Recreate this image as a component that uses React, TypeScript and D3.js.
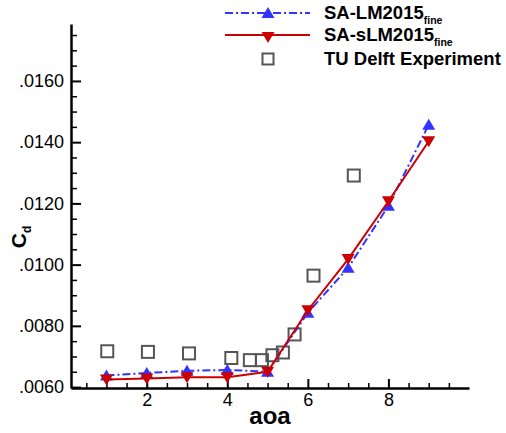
import React, { useEffect, useRef } from "react";
import * as d3 from "d3";

const aoaSim = [1, 2, 3, 4, 5, 6, 7, 8, 9];
const cdSALM = [0.00638, 0.00646, 0.00653, 0.00656, 0.0065, 0.00843, 0.0099, 0.01192, 0.01457];
const cdSsLM = [0.00625, 0.00628, 0.00632, 0.00632, 0.0065, 0.00851, 0.01018, 0.01207, 0.01403];
const aoaExp = [1.02, 2.03, 3.05, 4.1, 4.56, 4.86, 5.12, 5.38, 5.67, 6.14, 7.14];
const cdExp = [0.00717, 0.00715, 0.0071, 0.00695, 0.00688, 0.00688, 0.00704, 0.00713, 0.00772, 0.00964, 0.01291];
const xMajor = [2, 4, 6, 8];
const yMajor = [0.006, 0.008, 0.01, 0.012, 0.014, 0.016];
const legendLabels = ["SA-LM2015", "SA-sLM2015", "TU Delft Experiment"];
const legendSub = ["fine", "fine", ""];

const W = 506;
const H = 433;
const FONT = "'Liberation Sans', Arial, Helvetica, sans-serif";

export default function App() {
  const ref = useRef<SVGSVGElement | null>(null);

  useEffect(() => {
    const svg = d3.select(ref.current);
    svg.selectAll("*").remove();

    const x = d3.scaleLinear().domain([0.12, 10]).range([71, 469]);
    const y = d3.scaleLinear().domain([0.00597, 0.01786]).range([388, 24]);

    const xMinor = d3.range(0.5, 10, 0.5).filter((v) => v % 2 !== 0);
    const yMinor = d3.range(13, 36).map((k) => k * 0.0005).filter((v, i) => (i + 13) % 4 !== 0);

    // minor ticks
    svg.append("g").attr("transform", `translate(0,${388})`)
      .call(d3.axisBottom(x).tickValues(xMinor).tickSizeInner(-5).tickSizeOuter(0).tickFormat(() => ""))
      .call((g) => g.select(".domain").remove())
      .call((g) => g.selectAll("line").attr("stroke", "#000").attr("stroke-width", 1.5));
    svg.append("g").attr("transform", `translate(${71},0)`)
      .call(d3.axisLeft(y).tickValues(yMinor).tickSizeInner(-6).tickSizeOuter(0).tickFormat(() => ""))
      .call((g) => g.select(".domain").remove())
      .call((g) => g.selectAll("line").attr("stroke", "#000").attr("stroke-width", 1.5));

    // major axes
    const gx = svg.append("g").attr("transform", `translate(0,${388})`)
      .call(d3.axisBottom(x).tickValues(xMajor).tickSizeInner(-9).tickSizeOuter(0).tickPadding(5).tickFormat(d3.format("d")));
    gx.select(".domain").attr("stroke", "#000").attr("stroke-width", 2.5);
    gx.selectAll("line").attr("stroke", "#000").attr("stroke-width", 2);
    gx.selectAll("text").attr("font-size", 18).attr("font-family", FONT).attr("fill", "#000");

    const gy = svg.append("g").attr("transform", `translate(${71},0)`)
      .call(d3.axisLeft(y).tickValues(yMajor).tickSizeInner(-10).tickSizeOuter(0).tickPadding(7)
        .tickFormat((d) => d3.format(".4f")(d as number).replace(/^0/, "")));
    gy.select(".domain").attr("stroke", "#000").attr("stroke-width", 2.5);
    gy.selectAll("line").attr("stroke", "#000").attr("stroke-width", 2);
    gy.selectAll("text").attr("font-size", 18).attr("font-family", FONT).attr("fill", "#000");

    const blue = "#3333ff";
    const red = "#cc0000";
    const line = d3.line<number>().x((_, i) => x(aoaSim[i])).y((d) => y(d));
    const triUpPath = "M0,-6L6.5,5L-6.5,5Z";
    const triDownPath = "M0,6L6.5,-5L-6.5,-5Z";

    // experiment squares
    svg.append("g").selectAll("rect").data(aoaExp).join("rect")
      .attr("x", (d) => x(d) - 6).attr("y", (_, i) => y(cdExp[i]) - 6)
      .attr("width", 12).attr("height", 12)
      .attr("fill", "none").attr("stroke", "#555").attr("stroke-width", 2);

    // SA-LM2015 blue
    svg.append("path").datum(cdSALM).attr("d", line).attr("fill", "none")
      .attr("stroke", blue).attr("stroke-width", 2).attr("stroke-dasharray", "8,3,2,3");
    svg.append("g").selectAll("path").data(cdSALM).join("path")
      .attr("d", triUpPath).attr("fill", blue)
      .attr("transform", (d, i) => `translate(${x(aoaSim[i])},${y(d)})`);

    // SA-sLM2015 red
    svg.append("path").datum(cdSsLM).attr("d", line).attr("fill", "none")
      .attr("stroke", red).attr("stroke-width", 2);
    svg.append("g").selectAll("path").data(cdSsLM).join("path")
      .attr("d", triDownPath).attr("fill", red)
      .attr("transform", (d, i) => `translate(${x(aoaSim[i])},${y(d)})`);

    // axis titles
    svg.append("text").attr("x", 270).attr("y", 424).attr("text-anchor", "middle")
      .attr("font-family", FONT).attr("font-weight", "bold").attr("font-size", 24).text("aoa");
    const cd = svg.append("text").attr("transform", "translate(26,237) rotate(-90)")
      .attr("text-anchor", "middle").attr("font-family", FONT).attr("font-weight", "bold").attr("font-size", 21);
    cd.append("tspan").text("C");
    cd.append("tspan").attr("dy", 5).attr("font-size", 12).text("d");

    // legend
    const lg = svg.append("g");
    const rowsY = [13, 35, 59];
    const textY = [18.5, 40.5, 65];
    lg.append("line").attr("x1", 225).attr("x2", 310).attr("y1", rowsY[0]).attr("y2", rowsY[0])
      .attr("stroke", blue).attr("stroke-width", 2).attr("stroke-dasharray", "8,3,2,3");
    lg.append("path").attr("d", triUpPath).attr("fill", blue).attr("transform", `translate(268,${rowsY[0]})`);
    lg.append("line").attr("x1", 225).attr("x2", 310).attr("y1", rowsY[1]).attr("y2", rowsY[1])
      .attr("stroke", red).attr("stroke-width", 2);
    lg.append("path").attr("d", triDownPath).attr("fill", red).attr("transform", `translate(268,${rowsY[1] + 2})`);
    lg.append("rect").attr("x", 262.5).attr("y", rowsY[2] - 5.5).attr("width", 11).attr("height", 11)
      .attr("fill", "none").attr("stroke", "#555").attr("stroke-width", 2);
    legendLabels.forEach((lab, i) => {
      const t = lg.append("text").attr("x", 324).attr("y", textY[i]).attr("font-family", FONT)
        .attr("font-weight", "bold").attr("font-size", 18.5).attr("fill", "#000");
      t.append("tspan").text(lab);
      if (legendSub[i]) t.append("tspan").attr("dy", 5).attr("font-size", 10.5).text(legendSub[i]);
    });
  }, []);

  return (
    <svg ref={ref} width={W} height={H} style={{ position: "absolute", left: 0, top: 0, background: "#fff" }} />
  );
}
